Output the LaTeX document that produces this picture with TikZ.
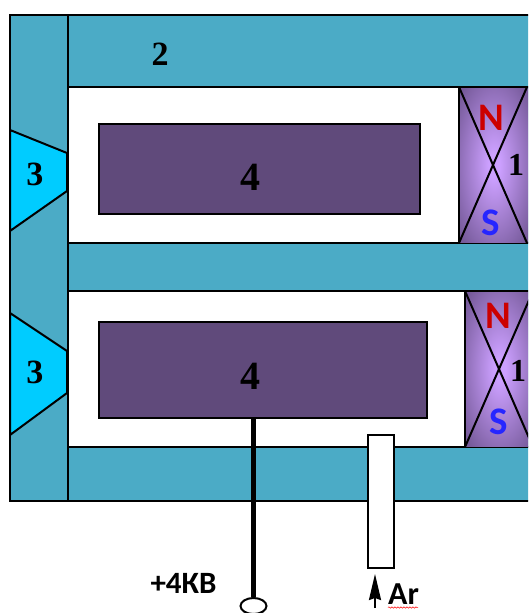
\documentclass[tikz,border=0pt]{standalone}
\usepackage{fontspec}
\setmainfont{Liberation Serif}
\newfontfamily\labelfont{Carlito}
\usetikzlibrary{arrows.meta,decorations.pathmorphing,shapes.geometric}
\definecolor{bodyteal}{RGB}{75,171,198}
\definecolor{anodeblue}{RGB}{0,204,255}
\definecolor{cathodepurple}{RGB}{96,74,123}
\definecolor{magnetlight}{RGB}{204,160,255}
\definecolor{magnetdark}{RGB}{118,90,154}
\pgfdeclareradialshading{magnetglow}{\pgfpoint{0bp}{0bp}}{color(0bp)=(magnetlight); color(4bp)=(magnetlight); color(33bp)=(magnetdark); color(50bp)=(magnetdark)}
\tikzset{
  body/.style={draw=black,line width=2.5pt,fill=bodyteal},
  cathode/.style={draw=black,line width=1.8pt,fill=cathodepurple,inner sep=0pt},
  anode/.style={draw=black,line width=2pt,fill=anodeblue},
  num/.style={font=\bfseries\fontsize{34}{34}\selectfont,inner sep=0pt},
  pole/.style={font=\labelfont\bfseries\fontsize{39}{39}\selectfont,inner sep=0pt},
  sign/.style={font=\labelfont\bfseries\fontsize{31}{31}\selectfont,inner sep=0pt}
}
\begin{document}
\begin{tikzpicture}[x=1pt,y=-1pt]
  \useasboundingbox (0,0) rectangle (528,613);
  \clip (0,0) rectangle (528,613);

  % housing
  \draw[body] (10,15) rectangle (540,501);
  \draw[black,line width=2.5pt,fill=white] (68,87) rectangle (540,243);
  \draw[black,line width=2.5pt,fill=white] (68,291) rectangle (540,447);
  \draw[black,line width=2.5pt] (68,15) -- (68,501);

  % magnets
  \shade[shading=magnetglow] (459,88) rectangle (529,242);
  \shade[shading=magnetglow] (465,292) rectangle (535,446);
  \draw[black,line width=2.5pt] (459,87) -- (459,243);
  \draw[black,line width=2.5pt] (465,291) -- (465,447);
  \draw[black,line width=2pt] (459,87) -- (527,243);
  \draw[black,line width=2pt] (459,243) -- (527,87);
  \draw[black,line width=2pt] (465,291) -- (533,447);
  \draw[black,line width=2pt] (465,447) -- (533,291);

  % anodes
  \draw[anode] (10,130) -- (67,153) -- (67,191) -- (10,231) -- cycle;
  \draw[anode] (10,313) -- (67,351) -- (67,393) -- (10,435) -- cycle;

  % cathodes
  \node[cathode,minimum width=321pt,minimum height=90pt] (cathodetop) at (259.5,169) {};
  \node[cathode,minimum width=328pt,minimum height=96pt] (cathodelow) at (263,370) {};

  % gas inlet and high voltage lead
  \node[draw=black,line width=2pt,fill=white,inner sep=0pt,minimum width=26pt,minimum height=133pt] (tube) at (381,501.5) {};
  \node[draw=black,line width=2pt,fill=white,ellipse,inner sep=0pt,minimum width=26pt,minimum height=16pt] (lead) at (253.5,606) {};
  \draw[black,line width=5pt] (cathodelow.south -| lead.north) -- (lead.north);
  \coordinate (gasin) at (375,608);
  \draw[-{Stealth[length=26pt,width=12pt,inset=2pt]},black,line width=2pt,shorten >=5pt] (gasin) -- (tube.south -| gasin);

  % labels
  \node[num] (lbltwo) at (160,54) {2};
  \node[num] (lblthreea) at (35,174) {3};
  \node[num] (lblthreeb) at (35,372) {3};
  \node[num,font=\bfseries\fontsize{40}{40}\selectfont] (lblfoura) at (250,177) {4};
  \node[num,font=\bfseries\fontsize{40}{40}\selectfont] (lblfourb) at (250,376) {4};
  \node[num,font=\bfseries\fontsize{32}{32}\selectfont] (lblonea) at (516,165) {1};
  \node[num,font=\bfseries\fontsize{32}{32}\selectfont] (lbloneb) at (518,371) {1};
  \node[pole,text=red!80!black] (polena) at (491,118) {N};
  \node[pole,text=blue!85!white] (polesa) at (491,223) {S};
  \node[pole,text=red!80!black] (polenb) at (498,316) {N};
  \node[pole,text=blue!85!white] (polesb) at (499,422) {S};
  \node[sign] (volt) at (183.5,583) {+4КВ};
  \node[sign,font=\labelfont\bfseries\fontsize{32}{32}\selectfont] (gas) at (403.5,594) {Ar};
  \draw[red,line width=0.5pt,decorate,decoration={snake,amplitude=0.7pt,segment length=3pt}] (388,607.5) -- (418,607.5);
\end{tikzpicture}
\end{document}
